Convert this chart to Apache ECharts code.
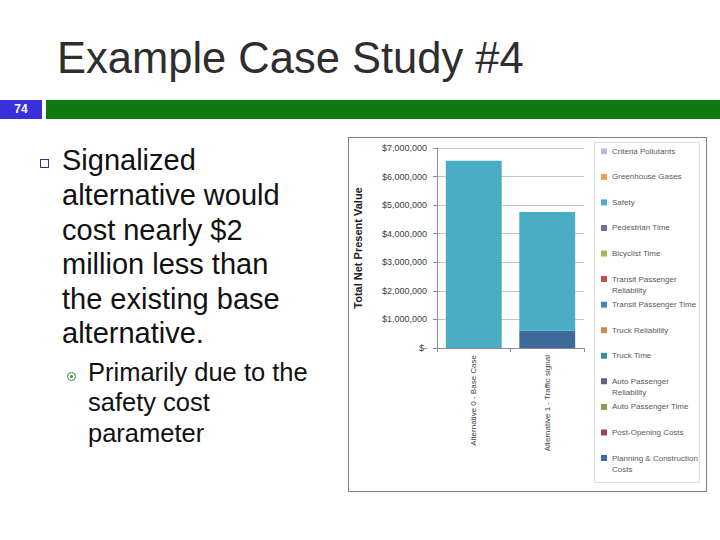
<!DOCTYPE html>
<html><head><meta charset="utf-8">
<script src="https://cdn.jsdelivr.net/npm/echarts@6/dist/echarts.min.js"></script>
<style>
html,body{margin:0;padding:0}
body{width:720px;height:540px;position:relative;background:#fff;font-family:"Liberation Sans",Arial,sans-serif;overflow:hidden}
#chart{position:absolute;left:0;top:0;width:720px;height:540px}
.abs{position:absolute;white-space:nowrap}
#title{left:57px;top:36.4px;font-size:43.5px;line-height:44px;color:#2e2e2e}
#num{left:0;top:100px;width:42px;height:18.5px;background:#3b2fdc;color:#fff;font-weight:bold;font-size:12px;line-height:18.5px;text-align:center}
#band{left:46px;top:100px;width:674px;height:18.5px;background:#0f7a11}
#sq{left:40px;top:158.5px;width:7px;height:7px;border:1.7px solid #34308f}
#main{left:62px;top:143.4px;font-size:29px;line-height:34.6px;color:#111}
#circ{left:67px;top:371.5px;width:7px;height:7px;border:1.5px solid #2f8f3a;border-radius:50%}
#circ:after{content:"";position:absolute;left:2px;top:2px;width:3px;height:3px;border-radius:50%;background:#2f8f3a}
#sub{left:88px;top:356.6px;font-size:25.5px;line-height:30.5px;color:#111}
#frame{left:348px;top:137px;width:357px;height:353px;border:1.5px solid #7f7f7f}
</style></head><body>
<div class="abs" id="frame"></div>
<div id="chart"></div>
<div class="abs" id="title">Example Case Study #4</div>
<div class="abs" id="num">74</div>
<div class="abs" id="band"></div>
<div class="abs" id="sq"></div>
<div class="abs" id="main">Signalized<br>alternative would<br>cost nearly $2<br>million less than<br>the existing base<br>alternative.</div>
<div class="abs" id="circ"></div>
<div class="abs" id="sub">Primarily due to the<br>safety cost<br>parameter</div>
<script>
// ---- data ----
var categories = ["Alternative 0 - Base Case", "Alternative 1 - Traffic signal"];
// stack order: bottom first
var seriesNames = [
  "Planning & Construction Costs", "Post-Opening Costs", "Auto Passenger Time",
  "Auto Passenger Reliability", "Truck Time", "Truck Reliability",
  "Transit Passenger Time", "Transit Passenger Reliability", "Bicyclist Time",
  "Pedestrian Time", "Safety", "Greenhouse Gases", "Criteria Pollutants"
];
var planningConstruction = [0, 600000];
var postOpening = [0, 0];
var autoPassengerTime = [0, 0];
var autoPassengerReliability = [0, 0];
var truckTime = [0, 0];
var truckReliability = [0, 0];
var transitPassengerTime = [0, 0];
var transitPassengerReliability = [0, 0];
var bicyclistTime = [0, 0];
var pedestrianTime = [0, 0];
var safety = [6550000, 4160000];
var greenhouseGases = [0, 0];
var criteriaPollutants = [0, 0];
var yTickMin = 0, yTickMax = 7000000, yTickStep = 1000000;

var seriesValues = [planningConstruction, postOpening, autoPassengerTime, autoPassengerReliability,
  truckTime, truckReliability, transitPassengerTime, transitPassengerReliability, bicyclistTime,
  pedestrianTime, safety, greenhouseGases, criteriaPollutants];
var colors = ["#3d6a9b", "#a04643", "#85a04f", "#6a5a86", "#3a8fa3", "#d08a4e",
  "#4f81bd", "#c0504d", "#9bbb59", "#7b6a95", "#4bacc6", "#f0a056", "#b4c0d6"];
var legendLabels = {
  "Transit Passenger Reliability": "Transit Passenger\nReliability",
  "Auto Passenger Reliability": "Auto Passenger\nReliability",
  "Planning & Construction Costs": "Planning & Construction\nCosts"
};

var chart = echarts.init(document.getElementById('chart'), null, {renderer: 'svg'});
var FONT = '"Liberation Sans", Arial, sans-serif';

// icon for two-line entries: square aligned with the first text line
var tallIcon = 'path://M0,2.5H6V8.5H0Z M0,0H0.01V0.01H0Z M5.99,21.99H6V22H5.99Z';

// legend: top entry is top of stack
var legendOrder = seriesNames.slice().reverse();
var legends = legendOrder.map(function (name, i) {
  var c = 151.3 + i * 25.56;
  var two = !!legendLabels[name];
  return {
    data: [{name: name, icon: two ? tallIcon : 'rect'}],
    orient: 'vertical', left: 601, top: c - 5.5,
    padding: 0, itemWidth: 6, itemHeight: two ? 22 : 6,
    symbolKeepAspect: false,
    formatter: function (n) { return legendLabels[n] || n; },
    textStyle: {fontFamily: FONT, fontSize: 8, color: '#595959', lineHeight: 11},
    selectedMode: false
  };
});

var series = seriesNames.map(function (name, i) {
  return {
    name: name, type: 'bar', stack: 'total', data: seriesValues[i],
    barCategoryGap: '24%', itemStyle: {color: colors[i]}, silent: true
  };
});

chart.setOption({
  animation: false,
  color: colors,
  textStyle: {fontFamily: FONT},
  grid: {left: 437, top: 148, width: 147, height: 200, containLabel: false},
  graphic: [{type: 'rect', shape: {x: 594.5, y: 142.5, width: 105, height: 340},
    style: {fill: 'none', stroke: '#dcdcdc', lineWidth: 1}, silent: true}],
  legend: legends,
  xAxis: {
    type: 'category', data: categories,
    axisLine: {lineStyle: {color: '#8c8c8c'}},
    axisTick: {show: true, alignWithLabel: false, length: 4, lineStyle: {color: '#8c8c8c'}},
    axisLabel: {rotate: 90, interval: 0, fontSize: 8, color: '#404040', margin: 7, fontFamily: FONT}
  },
  yAxis: {
    type: 'value', min: yTickMin, max: yTickMax, interval: yTickStep,
    name: 'Total Net Present Value', nameLocation: 'middle', nameGap: 74,
    nameTextStyle: {fontSize: 11, fontWeight: 'bold', color: '#222', fontFamily: FONT},
    axisLine: {show: true, lineStyle: {color: '#8c8c8c'}},
    axisTick: {show: true, length: 4, lineStyle: {color: '#8c8c8c'}},
    splitLine: {lineStyle: {color: '#c4c4c4'}},
    axisLabel: {fontSize: 9, color: '#404040', margin: 10, fontFamily: FONT,
      formatter: function (v) { return v === 0 ? '$-' : '$' + v.toLocaleString('en-US'); }}
  },
  series: series
});
</script>
</body></html>
